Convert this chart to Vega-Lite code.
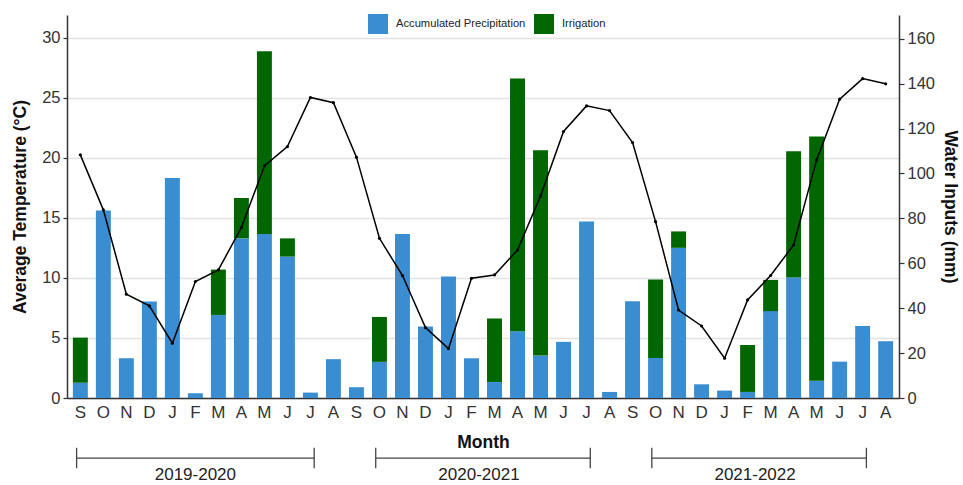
{
  "$schema": "https://vega.github.io/schema/vega-lite/v6.json",
  "width": 832,
  "height": 383,
  "autosize": {"type": "none"},
  "padding": {"left": 67, "top": 15, "right": 64, "bottom": 87},
  "background": "white",
  "config": {
    "view": {"stroke": null},
    "font": "Liberation Sans",
    "axis": {
      "domainColor": "#333333",
      "domainWidth": 1.5,
      "tickColor": "#333333",
      "tickWidth": 1.2,
      "labelColor": "#333333",
      "titleColor": "#111111",
      "titleFontWeight": "bold",
      "titleFontSize": 17.5,
      "labelFontSize": 16.5,
      "labelFont": "Liberation Sans",
      "titleFont": "Liberation Sans"
    }
  },
  "datasets": {
    "monthly": [
      {"month": "2019-09", "precipitation": 6.8, "irrigation": 20.1, "temperature": 20.25},
      {"month": "2019-10", "precipitation": 83.5, "irrigation": 0, "temperature": 15.67},
      {"month": "2019-11", "precipitation": 17.7, "irrigation": 0, "temperature": 8.64},
      {"month": "2019-12", "precipitation": 43.0, "irrigation": 0, "temperature": 7.67},
      {"month": "2020-01", "precipitation": 98.0, "irrigation": 0, "temperature": 4.56},
      {"month": "2020-02", "precipitation": 2.1, "irrigation": 0, "temperature": 9.7},
      {"month": "2020-03", "precipitation": 37.0, "irrigation": 20.2, "temperature": 10.67},
      {"month": "2020-04", "precipitation": 71.1, "irrigation": 18.0, "temperature": 14.2},
      {"month": "2020-05", "precipitation": 73.1, "irrigation": 81.4, "temperature": 19.33},
      {"month": "2020-06", "precipitation": 63.0, "irrigation": 8.1, "temperature": 20.94},
      {"month": "2020-07", "precipitation": 2.4, "irrigation": 0, "temperature": 25.03},
      {"month": "2020-08", "precipitation": 17.3, "irrigation": 0, "temperature": 24.6},
      {"month": "2020-09", "precipitation": 4.8, "irrigation": 0, "temperature": 20.06},
      {"month": "2020-10", "precipitation": 16.1, "irrigation": 20.0, "temperature": 13.3},
      {"month": "2020-11", "precipitation": 73.0, "irrigation": 0, "temperature": 10.2},
      {"month": "2020-12", "precipitation": 31.8, "irrigation": 0, "temperature": 5.86},
      {"month": "2021-01", "precipitation": 54.1, "irrigation": 0, "temperature": 4.11},
      {"month": "2021-02", "precipitation": 17.7, "irrigation": 0, "temperature": 9.97},
      {"month": "2021-03", "precipitation": 7.1, "irrigation": 28.3, "temperature": 10.25},
      {"month": "2021-04", "precipitation": 29.7, "irrigation": 112.6, "temperature": 12.33},
      {"month": "2021-05", "precipitation": 18.9, "irrigation": 91.4, "temperature": 16.83},
      {"month": "2021-06", "precipitation": 25.0, "irrigation": 0, "temperature": 22.2},
      {"month": "2021-07", "precipitation": 78.6, "irrigation": 0, "temperature": 24.33},
      {"month": "2021-08", "precipitation": 2.7, "irrigation": 0, "temperature": 23.94},
      {"month": "2021-09", "precipitation": 43.1, "irrigation": 0, "temperature": 21.28},
      {"month": "2021-10", "precipitation": 17.8, "irrigation": 35.0, "temperature": 14.69},
      {"month": "2021-11", "precipitation": 66.9, "irrigation": 7.3, "temperature": 7.33},
      {"month": "2021-12", "precipitation": 6.1, "irrigation": 0, "temperature": 6.0},
      {"month": "2022-01", "precipitation": 3.3, "irrigation": 0, "temperature": 3.31},
      {"month": "2022-02", "precipitation": 2.7, "irrigation": 20.9, "temperature": 8.17},
      {"month": "2022-03", "precipitation": 38.7, "irrigation": 13.9, "temperature": 10.2},
      {"month": "2022-04", "precipitation": 53.7, "irrigation": 56.2, "temperature": 12.75},
      {"month": "2022-05", "precipitation": 7.7, "irrigation": 108.8, "temperature": 19.83},
      {"month": "2022-06", "precipitation": 16.2, "irrigation": 0, "temperature": 24.89},
      {"month": "2022-07", "precipitation": 32.1, "irrigation": 0, "temperature": 26.6},
      {"month": "2022-08", "precipitation": 25.3, "irrigation": 0, "temperature": 26.17}
    ],
    "years": [
      {"season": "2019-2020", "start": "2019-09", "end": "2020-07", "mid": "2020-02", "group": "a"},
      {"season": "2020-2021", "start": "2020-10", "end": "2021-07", "mid": "2021-02", "group": "b"},
      {"season": "2021-2022", "start": "2021-10", "end": "2022-07", "mid": "2022-02", "group": "b"}
    ]
  },
  "layer": [
    {
      "data": {"name": "monthly"},
      "transform": [{"fold": ["precipitation", "irrigation"], "as": ["type", "mm"]}],
      "mark": {"type": "bar"},
      "encoding": {
        "x": {
          "field": "month",
          "type": "nominal",
          "scale": {"paddingInner": 0.35, "paddingOuter": 0.255},
          "axis": {
            "title": "Month",
            "labelAngle": 0,
            "ticks": false,
            "labelPadding": 6,
            "labelFontSize": 17,
            "titlePadding": 13,
            "labelExpr": "['J','F','M','A','M','J','J','A','S','O','N','D'][toNumber(slice(datum.value,5,7))-1]"
          }
        },
        "y": {
          "field": "mm",
          "type": "quantitative",
          "stack": "zero",
          "scale": {"domain": [0, 170.6], "nice": false},
          "axis": {
            "orient": "right",
            "title": "Water Inputs (mm)",
            "values": [0, 20, 40, 60, 80, 100, 120, 140, 160],
            "grid": false,
            "tickSize": 5,
            "labelPadding": 3,
            "titlePadding": 6
          }
        },
        "color": {
          "field": "type",
          "type": "nominal",
          "scale": {"domain": ["precipitation", "irrigation"], "range": ["#3a8dd1", "#006600"]},
          "legend": {
            "title": null,
            "orient": "none",
            "legendX": 301,
            "legendY": -1,
            "direction": "horizontal",
            "symbolType": "square",
            "symbolSize": 400,
            "symbolStrokeWidth": 0,
            "labelFontSize": 11.2,
            "labelColor": "#222222",
            "labelOffset": 8,
            "columnPadding": 8,
            "labelExpr": "datum.value == 'precipitation' ? 'Accumulated Precipitation' : 'Irrigation'"
          }
        },
        "order": {"field": "type", "sort": "descending"}
      }
    },
    {
      "layer": [
        {
          "data": {"name": "monthly"},
          "mark": {"type": "line", "color": "#000000", "strokeWidth": 1.5},
          "encoding": {
            "x": {"field": "month", "type": "nominal"},
            "y": {
              "field": "temperature",
              "type": "quantitative",
              "scale": {"domain": [0, 31.9], "nice": false},
              "axis": {
                "orient": "left",
                "title": "Average Temperature (°C)",
                "values": [0, 2.5, 5, 7.5, 10, 12.5, 15, 17.5, 20, 22.5, 25, 27.5, 30],
                "labelExpr": "datum.value % 5 == 0 ? datum.label : ''",
                "grid": true,
                "gridColor": {"condition": {"test": "datum.value % 5 == 0", "value": "#e2e2e2"}, "value": "#f0f0f0"},
                "gridWidth": {"condition": {"test": "datum.value % 5 == 0", "value": 1.3}, "value": 1},
                "tickOpacity": {"condition": {"test": "datum.value % 5 != 0", "value": 0}, "value": 1},
                "tickSize": 4,
                "labelPadding": 3,
                "titlePadding": 12
              }
            }
          }
        },
        {
          "data": {"name": "monthly"},
          "mark": {"type": "point", "filled": true, "color": "#000000", "size": 10, "opacity": 1},
          "encoding": {
            "x": {"field": "month", "type": "nominal"},
            "y": {"field": "temperature", "type": "quantitative"}
          }
        },
        {
          "data": {"name": "years"},
          "mark": {"type": "rule", "color": "#444444", "strokeWidth": 1.3},
          "encoding": {
            "x": {"field": "start", "type": "nominal", "bandPosition": 0.25},
            "x2": {"field": "end", "bandPosition": 0.75},
            "y": {"datum": -5}
          }
        },
        {
          "data": {"name": "years"},
          "mark": {"type": "rule", "color": "#444444", "strokeWidth": 1.3},
          "encoding": {
            "x": {"field": "start", "type": "nominal", "bandPosition": 0.25},
            "y": {"datum": -4.15},
            "y2": {"datum": -5.85}
          }
        },
        {
          "data": {"name": "years"},
          "mark": {"type": "rule", "color": "#444444", "strokeWidth": 1.3},
          "encoding": {
            "x": {"field": "end", "type": "nominal", "bandPosition": 0.75},
            "y": {"datum": -4.15},
            "y2": {"datum": -5.85}
          }
        },
        {
          "data": {"name": "years"},
          "transform": [{"filter": "datum.group == 'a'"}],
          "mark": {"type": "text", "fontSize": 17, "color": "#222222", "baseline": "middle", "align": "center", "font": "Liberation Sans"},
          "encoding": {
            "x": {"field": "mid", "type": "nominal", "bandPosition": 0.5},
            "y": {"datum": -6.4},
            "text": {"field": "season"}
          }
        },
        {
          "data": {"name": "years"},
          "transform": [{"filter": "datum.group == 'b'"}],
          "mark": {"type": "text", "fontSize": 17, "color": "#222222", "baseline": "middle", "align": "center", "font": "Liberation Sans"},
          "encoding": {
            "x": {"field": "mid", "type": "nominal", "bandPosition": 1},
            "y": {"datum": -6.4},
            "text": {"field": "season"}
          }
        }
      ]
    }
  ],
  "resolve": {"scale": {"y": "independent"}}
}
